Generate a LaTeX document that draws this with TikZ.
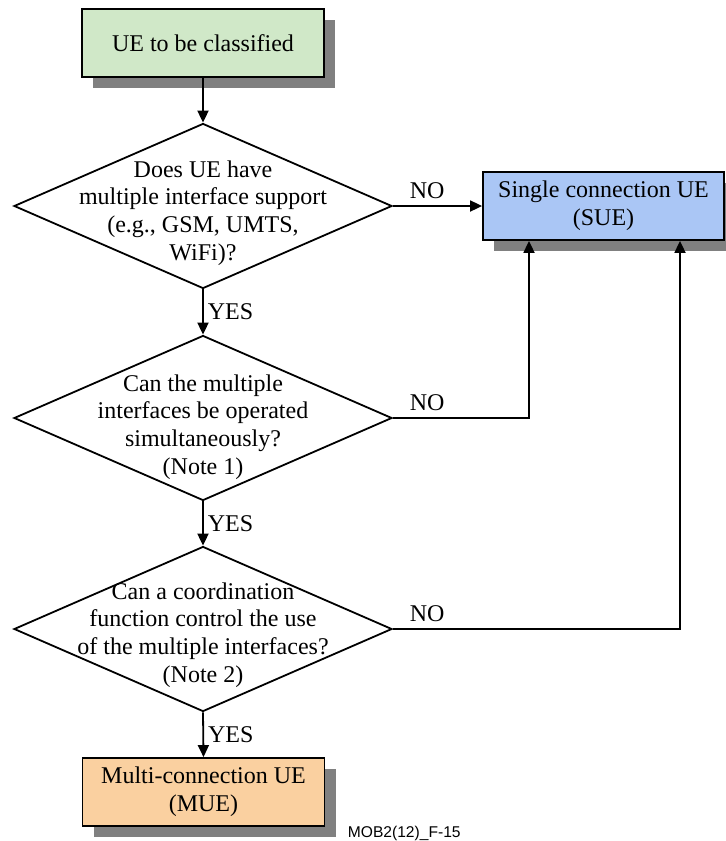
\documentclass[tikz,border=0pt]{standalone}
\usepackage{fontspec}
\setmainfont{Liberation Serif}
\newfontfamily\figidfont{Liberation Sans}
\usetikzlibrary{arrows.meta, positioning, shapes.geometric, shadows}
\definecolor{startfill}{HTML}{D0E8C8}
\definecolor{suefill}{HTML}{AAC6F5}
\definecolor{muefill}{HTML}{FAD0A0}

\begin{document}
\begin{tikzpicture}[x=0.5pt, y=-0.5pt, >={Triangle[length=6pt, width=5.5pt]},
          line width=0.9pt, font=\fontsize{12}{13.8}\selectfont,
          box/.style={draw, minimum width=121pt, minimum height=34pt,
            align=center, inner sep=2pt,
            drop shadow={shadow xshift=5.5pt, shadow yshift=-5.5pt,
              fill=black!50, opacity=1}},
          decision/.style={diamond, draw, minimum width=189pt,
            minimum height=82.5pt, inner sep=0pt},
          qtext/.style={align=center, inner sep=0pt},
          yes/.style={right, inner sep=2pt},
          no/.style={anchor=south west, inner sep=0pt, xshift=8pt, yshift=3pt}]
        \useasboundingbox (0,0) rectangle (725,841);
        % boxes
        \node[box, fill=startfill] (ue) at (203,43) {UE to be classified};
        \node[box, fill=suefill, minimum width=120.5pt] (sue) at (603.5,206)
              {Single connection UE\\(SUE)};
        \node[box, fill=muefill] (mue) at (203.5,792)
              {Multi-connection UE\\(MUE)};
        % questions
        \node[decision] (q1) at (203,206) {};
        \node[qtext] (q1t) at (203,213)
              {Does UE have\\multiple interface support\\(e.g., GSM, UMTS,\\WiFi)?};
        \node[decision] (q2) at (203,418) {};
        \node[qtext] (q2t) at (203,427)
              {Can the multiple\\interfaces be operated\\simultaneously?\\(Note 1)};
        \node[decision] (q3) at (203,629) {};
        \node[qtext] (q3t) at (203,635)
              {Can a coordination\\function control the use\\of the multiple interfaces?\\(Note 2)};
        \node[anchor=west, inner sep=0pt,
              font=\figidfont\fontsize{7.8}{9}\selectfont] (figid) at (347,833)
              {MOB2(12)\_F-15};
        % connectors
        \draw[->] (ue.south -| q1) -- (q1.north);
        \draw[->] (q1.south) -- node[yes] {YES} (q2.north);
        \draw[->] (q2.south) -- node[yes] {YES} (q3.north);
        \draw[->] (q3.south) -- node[yes] {YES} (mue.north);
        \draw[->] (q1.east) node[no] {NO} -- (sue.west);
        \draw[->] (q2.east) node[no] {NO} -| (529,0 |- sue.south);
        \draw[->] (q3.east) node[no] {NO} -| (680,0 |- sue.south);
      \end{tikzpicture}
\end{document}
